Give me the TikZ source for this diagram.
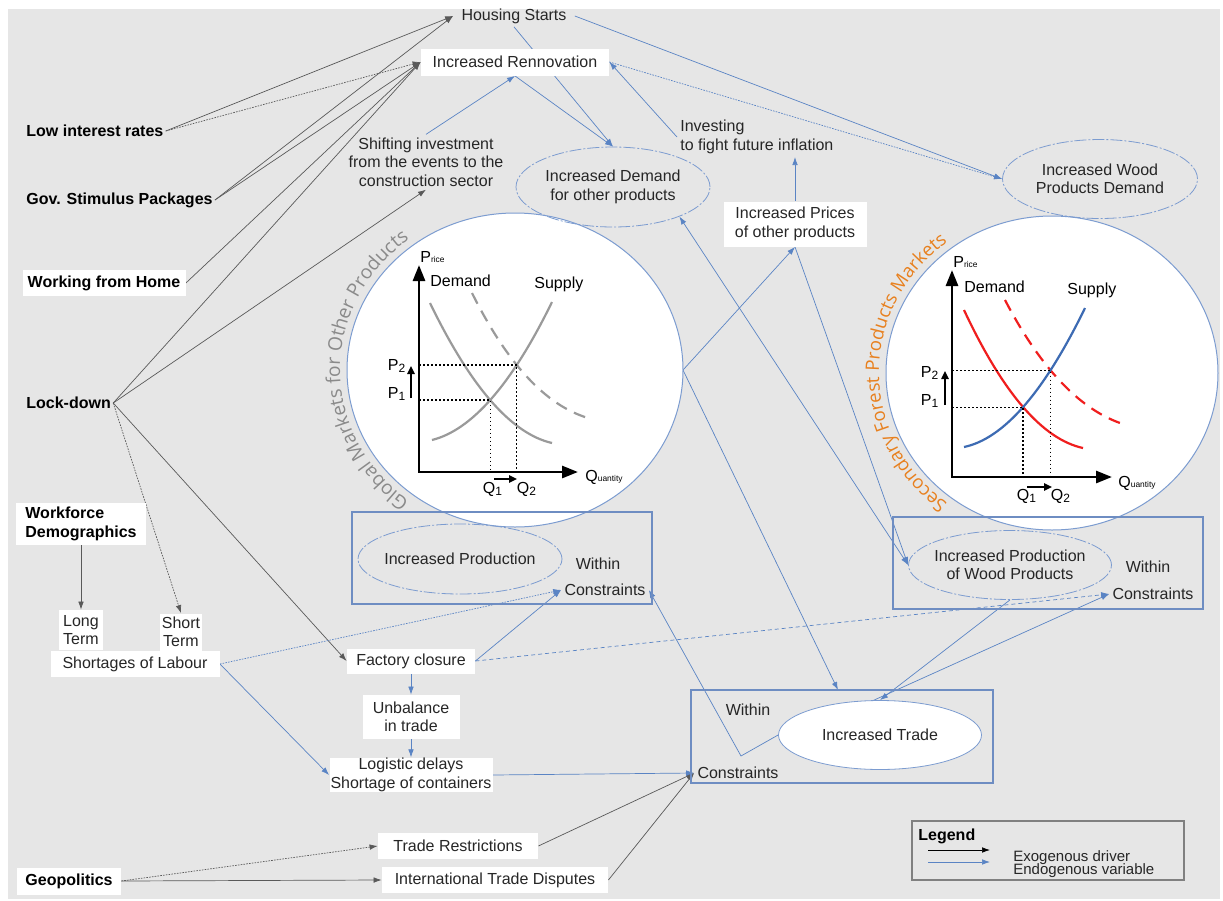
\documentclass[tikz,border=0pt]{standalone}
\usepackage{fontspec}
\setmainfont{Liberation Sans}
\newfontfamily\arcfont{Open Sans}
\usetikzlibrary{arrows.meta,shapes.geometric,decorations.text,intersections,calc}
\definecolor{bggrey}{HTML}{E6E6E6}
\definecolor{linkblue}{HTML}{5A84C4}
\definecolor{rimblue}{HTML}{7C9CD0}
\definecolor{boxblue}{HTML}{6E8DC2}
\definecolor{mktorange}{HTML}{E8801E}
\definecolor{mktgrey}{HTML}{8A8A8A}
\definecolor{curvegrey}{HTML}{9A9A9A}
\definecolor{sdred}{HTML}{F01E1E}
\definecolor{sdblue}{HTML}{3D6BB3}
\definecolor{inkgrey}{HTML}{262626}
\pgfdeclarelayer{bg}
\pgfdeclarelayer{links}
\pgfsetlayers{bg,links,main}

\begin{document}
\begin{tikzpicture}[x=0.5pt,y=-0.5pt,
  every node/.style={font=\fontsize{8}{9.2}\selectfont,text=inkgrey},
  txt/.style={inner sep=1.5pt,align=center},
  wbox/.style={fill=white,inner sep=1pt,align=center},
  drv/.style={font=\fontsize{8}{9.2}\selectfont\bfseries,text=black},
  ovl/.style={ellipse,draw=rimblue,line width=0.4pt,dash pattern=on 6pt off 1pt on 1pt off 1pt,inner xsep=-4pt,inner ysep=0pt,align=center},
  mkt/.style={ellipse,fill=white,draw=rimblue,line width=0.5pt,inner sep=0pt,outer sep=0pt},
  boxframe/.style={draw=boxblue,line width=0.6pt},
  exo/.style={draw=black!65,line width=0.35pt,-{Latex[length=4pt,width=2.8pt]}},
  endo/.style={draw=linkblue,line width=0.35pt,-{Latex[length=4pt,width=2.8pt]}},
  finedot/.style={dash pattern=on 0.8pt off 0.6pt},
  sdaxis/.style={line width=1.4pt,{Triangle[length=8pt,width=6pt]}-{Triangle[length=8pt,width=6pt]}},
  dotguide/.style={line width=0.6pt,dash pattern=on 0.8pt off 1.2pt},
  moveup/.style={line width=0.9pt,-{Triangle[length=4pt,width=3.6pt]}},
  sdcurve/.style={line width=1.1pt},
  sdlbl/.style={inner sep=0pt,text=black}
]
\useasboundingbox (0,0) rectangle (1223,901);
\begin{pgfonlayer}{bg}
\fill[bggrey] (8,9) rectangle (1220,899);
\end{pgfonlayer}

% drivers
\node[drv,anchor=west,inner sep=1pt] (LIR) at (24,131) {Low interest rates};
\node[drv,anchor=west,inner sep=1pt] (GSP) at (24,200) {Gov. Stimulus Packages};
\node[wbox,drv,minimum width=81.5pt,minimum height=13pt] (WFH) at (104,283) {Working from Home};
\node[drv,anchor=west,inner sep=1pt] (LOCK) at (24,403) {Lock-down};
\node[wbox,drv,align=left,minimum width=65pt,minimum height=21pt] (WD) at (81,524) {Workforce\\Demographics};
\node[wbox,minimum width=22pt,minimum height=20pt] (LT) at (81,630) {Long\\Term};
\node[wbox,minimum width=21pt,minimum height=18.5pt] (ST) at (181,632) {Short\\Term};
\node[wbox,minimum width=84.5pt,minimum height=13pt] (SL) at (135,664) {Shortages of Labour};
\node[wbox,drv,minimum width=52pt,minimum height=13.5pt] (GEO) at (69,881) {Geopolitics};

% top row
\node[txt,inner xsep=4pt] (HS) at (514,16) {Housing Starts};
\node[wbox,minimum width=94pt,minimum height=13.5pt] (IR) at (515,62) {Increased Rennovation};
\node[txt] (SI) at (426,162) {Shifting investment\\from the events to the\\construction sector};
\node[txt,align=left,anchor=west] (INV) at (677,137) {Investing\\to fight future inflation};

% market circles
\node[mkt,minimum width=168pt,minimum height=157pt] (GM) at (515,370) {};
\node[mkt,minimum width=166pt,minimum height=157pt] (SM) at (1052,373) {};
\path[decorate,decoration={text along path,text align=center,text color=mktgrey,
  text={|\arcfont\fontsize{9.6}{9.6}\selectfont|Global Markets for Other Products}}]
  (515,370) ++(110:175 and 164) arc[start angle=110,end angle=250,x radius=175,y radius=164];
\path[decorate,decoration={text along path,text align=center,text color=mktorange,
  text={|\arcfont\fontsize{9.3}{9.3}\selectfont|Secondary Forest Products Markets}}]
  (1052,373) ++(110:173 and 164) arc[start angle=110,end angle=250,x radius=173,y radius=164];

\node[ovl,minimum width=97pt,minimum height=40pt] (DO) at (613,187) {Increased Demand\\for other products};
\node[ovl,minimum width=97.5pt,minimum height=39.5pt] (WDm) at (1100,179) {Increased Wood\\Products Demand};
\node[wbox,minimum width=71.5pt,minimum height=22.5pt] (PR) at (795,224) {Increased Prices\\of other products};

% left chart
\coordinate (OL) at (419,472);
\draw[curvegrey,sdcurve,name path=demL] (430,303) .. controls (470.7,387) and (511.3,433.7) .. (552,443);
\draw[curvegrey,sdcurve,dash pattern=on 6pt off 4pt,name path=newL] (472,293) .. controls (507,363) and (545,405) .. (588,418);
\draw[curvegrey,sdcurve,name path=supL] (432,440) .. controls (472,430) and (512,384) .. (552,302);
\path[name intersections={of=demL and supL,by=L1}];
\path[name intersections={of=newL and supL,by=L2}];
\draw[dotguide] (OL |- L1) -- (L1) -- (L1 |- OL);
\draw[dotguide] (OL |- L2) -- (L2) -- (L2 |- OL);
\draw[sdaxis] (419,265) -- (OL) -- (578,472);
\draw[moveup] (411,398) -- (411,366);
\draw[moveup] (494,479) -- (517,479);
\node[sdlbl,anchor=base west] at (420,262) {P{\fontsize{4.2}{5}\selectfont rice}};
\node[sdlbl,anchor=base west] at (430,286) {Demand};
\node[sdlbl,anchor=base west] at (534,288) {Supply};
\node[sdlbl,anchor=base] at (397,370) {P\textsubscript{2}};
\node[sdlbl,anchor=base] at (397,398) {P\textsubscript{1}};
\node[sdlbl,anchor=base] at (493,493) {Q\textsubscript{1}};
\node[sdlbl,anchor=base] at (527,493) {Q\textsubscript{2}};
\node[sdlbl,anchor=base west] at (585,481) {Q{\fontsize{4.2}{5}\selectfont uantity}};

% right chart
\coordinate (OR) at (952,477);
\draw[sdred,sdcurve,name path=demR] (964,310) .. controls (1003,393.3) and (1042.7,439.3) .. (1083,448);
\draw[sdred,sdcurve,dash pattern=on 6pt off 4pt,name path=newR] (1005,300) .. controls (1040,367) and (1078.3,408) .. (1120,423);
\draw[sdblue,sdcurve,name path=supR] (964,447) .. controls (1003.7,438.7) and (1044,392.3) .. (1085,308);
\path[name intersections={of=demR and supR,by=R1}];
\path[name intersections={of=newR and supR,by=R2}];
\draw[dotguide] (OR |- R1) -- (R1) -- (R1 |- OR);
\draw[dotguide] (OR |- R2) -- (R2) -- (R2 |- OR);
\draw[sdaxis] (952,270) -- (OR) -- (1112,477);
\draw[moveup] (945,405) -- (945,371);
\draw[moveup] (1027,487) -- (1052,487);
\node[sdlbl,anchor=base west] at (953,267) {P{\fontsize{4.2}{5}\selectfont rice}};
\node[sdlbl,anchor=base west] at (964,292) {Demand};
\node[sdlbl,anchor=base west] at (1067,294) {Supply};
\node[sdlbl,anchor=base] at (930,377) {P\textsubscript{2}};
\node[sdlbl,anchor=base] at (930,405) {P\textsubscript{1}};
\node[sdlbl,anchor=base] at (1027,500) {Q\textsubscript{1}};
\node[sdlbl,anchor=base] at (1061,500) {Q\textsubscript{2}};
\node[sdlbl,anchor=base west] at (1118,487) {Q{\fontsize{4.2}{5}\selectfont uantity}};

% production and trade
\draw[boxframe] (352,512) rectangle (652,604);
\node[ovl,minimum width=102pt,minimum height=35pt] (IP) at (460,559) {Increased Production};
\node[txt] (LW) at (598,564) {Within};
\node[txt] (LC) at (605,590) {Constraints};
\draw[boxframe] (893,517) rectangle (1203,609);
\node[ovl,minimum width=101.5pt,minimum height=34.5pt] (WP) at (1010,565) {Increased Production\\of Wood Products};
\node[txt] (WW) at (1148,567) {Within};
\node[txt] (WC) at (1153,594) {Constraints};
\draw[boxframe] (691,690) rectangle (993,783);
\node[ovl,fill=white,solid,minimum width=101.5pt,minimum height=34.5pt] (IT) at (880,735) {Increased Trade};
\node[txt] (TW) at (748,710) {Within};
\node[txt] (TC) at (738,773) {Constraints};
\coordinate (tbtop) at (838,690);
\coordinate (tbend) at (741,756);

% logistics
\node[wbox,minimum width=64pt,minimum height=12.5pt] (FC) at (411,661) {Factory closure};
\node[wbox,minimum width=48.5pt,minimum height=22pt] (UT) at (411,717) {Unbalance\\in trade};
\node[wbox,inner sep=0.3pt,minimum width=81.5pt,minimum height=16pt] (LOG) at (411,775) {Logistic delays\\Shortage of containers};
\node[wbox,minimum width=80pt,minimum height=13pt] (TR) at (458,846) {Trade Restrictions};
\node[wbox,minimum width=113pt,minimum height=13pt] (ITD) at (495,880) {International Trade Disputes};

% legend
\draw[black!50,line width=0.7pt] (912,821) rectangle (1184,880);
\node[drv,anchor=west,inner sep=0pt] (LEG) at (918,836) {Legend};
\coordinate (k1a) at (928,850); \coordinate (k1b) at (990,850);
\coordinate (k2a) at (928,862); \coordinate (k2b) at (990,862);
\node[anchor=west,align=left,inner sep=0pt,font=\fontsize{7.5}{6.5}\selectfont] (KEY) at (1013,864) {Exogenous driver\\[-1.6pt]Endogenous variable};

\begin{pgfonlayer}{links}
\draw[exo] (LIR.east) -- (HS.west);
\draw[exo,finedot] (LIR.east) -- (IR.west);
\draw[exo] (GSP.east) -- (HS.west);
\draw[exo] (GSP.east) -- (IR.west);
\draw[exo] (WFH.east) -- (IR.west);
\draw[exo] (LOCK.east) -- (IR.west);
\draw[exo] (LOCK.east) -- (SI.south);
\draw[exo,finedot] (LOCK.east) -- (ST.north);
\draw[exo] (LOCK.east) -- (FC.west);
\draw[exo] (WD.south) -- (LT.north);
\draw[exo,finedot] (GEO.east) -- (TR.west);
\draw[exo] (GEO.east) -- (ITD.west);
\draw[exo] (TR.east) -- (TC.west);
\draw[exo] (ITD.east) -- (TC.west);
\draw[exo,black] (k1a) -- (k1b);

\draw[endo] (SI.north) -- (IR.south);
\draw[endo] (HS.south) -- (DO.north);
\draw[endo] (IR.south) -- (DO.north);
\draw[endo] (HS.east) -- (WDm.west);
\draw[endo,finedot] (IR.east) -- (WDm.west);
\draw[endo] (INV.west) -- (IR.east);
\draw[endo] (PR.north) -- (PR.north |- INV.south);
\draw[endo] (GM.east) -- (PR.south);
\draw[endo] (GM.east) -- (tbtop);
\draw[endo] (PR.south) -- (WP.west);
\draw[endo,{Latex[length=4pt,width=2.8pt]}-{Latex[length=4pt,width=2.8pt]}] (DO.-24) -- (WP.west);
\draw[endo] (WP.south) -- (IT.north);
\draw[endo] (IT.100) -- (WC.west);
\draw[endo] (IT.west) -- (tbend) -- (LC.east);
\draw[endo,dash pattern=on 2pt off 1.5pt] (FC.east) -- (WC.west);
\draw[endo] (FC.east) -- (LC.west);
\draw[endo,finedot] (SL.east) -- (LC.west);
\draw[endo] (SL.east) -- (LOG.west);
\draw[endo] (FC.south) -- (UT.north);
\draw[endo] (UT.south) -- (LOG.north);
\draw[endo] (LOG.east) -- (TC.west);
\draw[endo] (k2a) -- (k2b);
\end{pgfonlayer}
\end{tikzpicture}
\end{document}
